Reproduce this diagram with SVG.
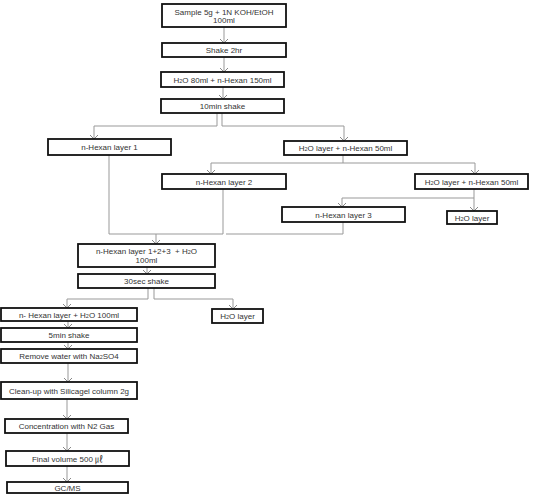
<svg xmlns="http://www.w3.org/2000/svg" width="541" height="494" viewBox="0 0 541 494">
<style>
.box{fill:#fff;stroke:#111;stroke-width:1.8}
.t{font-family:"Liberation Sans","Noto Sans CJK KR",sans-serif;font-size:8px;fill:#333;text-anchor:middle}
.s{font-size:5.5px}
.c{fill:none;stroke:#999;stroke-width:1}
</style>
<defs>
<marker id="a" markerWidth="10" markerHeight="10" refX="4" refY="5" orient="auto" markerUnits="userSpaceOnUse" viewBox="0 0 10 10">
<path d="M0,1 L4,5 L0,9" fill="none" stroke="#888" stroke-width="1"/>
</marker>
</defs>
<rect width="541" height="494" fill="#fff"/>
<g id="connectors">
<path class="c" d="M224,27 V43" marker-end="url(#a)"/>
<path class="c" d="M224,57 V72" marker-end="url(#a)"/>
<path class="c" d="M223,87 V99" marker-end="url(#a)"/>
<path class="c" d="M217,113 V126 H94 V139" marker-end="url(#a)"/>
<path class="c" d="M222,113 V126 H344 V141" marker-end="url(#a)"/>
<path class="c" d="M343,155 V163 H211 V174" marker-end="url(#a)"/>
<path class="c" d="M343,163 H475 V174" marker-end="url(#a)"/>
<path class="c" d="M474,189 V198 H342 V207" marker-end="url(#a)"/>
<path class="c" d="M474,198 V211" marker-end="url(#a)"/>
<path class="c" d="M109,155 V234 H223"/>
<path class="c" d="M223,189 V234"/>
<path class="c" d="M343,222 V234 H226"/>
<path class="c" d="M156,234 V244" marker-end="url(#a)"/>
<path class="c" d="M147,267 V274" marker-end="url(#a)"/>
<path class="c" d="M148,288 V299 H67 V308" marker-end="url(#a)"/>
<path class="c" d="M154,288 V299 H233 V309" marker-end="url(#a)"/>
<path class="c" d="M68,321 V328" marker-end="url(#a)"/>
<path class="c" d="M68,342 V349" marker-end="url(#a)"/>
<path class="c" d="M68,363 V382" marker-end="url(#a)"/>
<path class="c" d="M67,399 V419" marker-end="url(#a)"/>
<path class="c" d="M67,433 V451" marker-end="url(#a)"/>
<path class="c" d="M67,466 V482" marker-end="url(#a)"/>
</g>
<g id="n1"><rect class="box" x="162" y="4" width="124" height="23"/><text class="t" x="224" y="14.5">Sample 5g + 1N KOH/EtOH</text><text class="t" x="224" y="23">100ml</text></g>
<g id="n2"><rect class="box" x="162" y="43" width="124" height="14"/><text class="t" x="224" y="53">Shake 2hr</text></g>
<g id="n3"><rect class="box" x="161" y="72" width="123" height="15"/><text class="t" x="222.5" y="82.5">H<tspan class="s">2</tspan>O 80ml + n-Hexan 150ml</text></g>
<g id="n4"><rect class="box" x="161" y="99" width="123" height="14"/><text class="t" x="222.5" y="109">10min shake</text></g>
<g id="n5"><rect class="box" x="48" y="139" width="123" height="16"/><text class="t" x="109.5" y="150">n-Hexan layer 1</text></g>
<g id="n6"><rect class="box" x="284" y="141" width="123" height="14"/><text class="t" x="345.5" y="151">H<tspan class="s">2</tspan>O layer + n-Hexan 50ml</text></g>
<g id="n7"><rect class="box" x="162" y="174" width="124" height="15"/><text class="t" x="224" y="184.5">n-Hexan layer 2</text></g>
<g id="n8"><rect class="box" x="415" y="174" width="113" height="15"/><text class="t" x="471.5" y="184.5">H<tspan class="s">2</tspan>O layer + n-Hexan 50ml</text></g>
<g id="n9"><rect class="box" x="282" y="207" width="123" height="15"/><text class="t" x="343.5" y="217.5">n-Hexan layer 3</text></g>
<g id="n10"><rect class="box" x="447" y="211" width="50" height="13"/><text class="t" x="472" y="220.5">H<tspan class="s">2</tspan>O layer</text></g>
<g id="n11"><rect class="box" x="78" y="244" width="137" height="23"/><text class="t" x="146.5" y="254" xml:space="preserve">n-Hexan layer 1+2+3  + H<tspan class="s">2</tspan>O</text><text class="t" x="146.5" y="263">100ml</text></g>
<g id="n12"><rect class="box" x="78" y="274" width="137" height="14"/><text class="t" x="146.5" y="284">30sec shake</text></g>
<g id="n13"><rect class="box" x="1" y="308" width="136" height="13"/><text class="t" x="69" y="317.5">n- Hexan layer + H<tspan class="s">2</tspan>O 100ml</text></g>
<g id="n14"><rect class="box" x="212" y="309" width="51" height="14"/><text class="t" x="237.5" y="319">H<tspan class="s">2</tspan>O layer</text></g>
<g id="n15"><rect class="box" x="1" y="328" width="136" height="14"/><text class="t" x="69" y="338">5min shake</text></g>
<g id="n16"><rect class="box" x="1" y="349" width="136" height="14"/><text class="t" x="69" y="359">Remove water with Na<tspan class="s">2</tspan>SO4</text></g>
<g id="n17"><rect class="box" x="1" y="382" width="136" height="17"/><text class="t" x="69" y="393.5">Clean-up with Silicagel column 2g</text></g>
<g id="n18"><rect class="box" x="5" y="419" width="123" height="14"/><text class="t" x="66.5" y="429">Concentration with N2 Gas</text></g>
<g id="n19"><rect class="box" x="6" y="451" width="123" height="15"/><text class="t" x="67.5" y="461.5">Final volume 500 ㎕</text></g>
<g id="n20"><rect class="box" x="7" y="482" width="121" height="11"/><text class="t" x="67.5" y="491">GC/MS</text></g>
</svg>
